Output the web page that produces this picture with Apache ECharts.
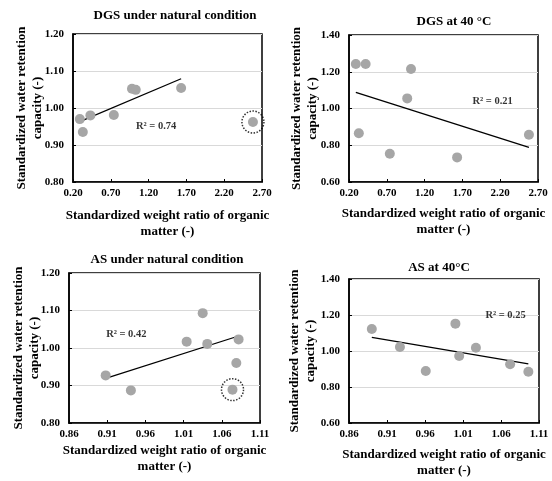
<!DOCTYPE html>
<html><head><meta charset="utf-8">
<script src="https://cdn.jsdelivr.net/npm/echarts@6/dist/echarts.min.js"></script>
<style>html,body{margin:0;padding:0;background:#fff}#c{width:552px;height:481px}</style>
</head><body><div id="c"></div>
<script>
const titles = ['DGS under natural condition', 'DGS at 40 °C', 'AS under natural condition', 'AS at 40°C'];
const r2Labels = ['R² = 0.74', 'R² = 0.21', 'R² = 0.42', 'R² = 0.25'];
const r2PosX = [1.30, 2.10, 0.935, 1.066];
const r2PosY = [0.950, 1.039, 1.037, 1.196];

const xTicksMin = [0.2, 0.2, 0.86, 0.86];
const xTicksMax = [2.7, 2.7, 1.11, 1.11];
const xTickStep = [0.5, 0.5, 0.05, 0.05];
const yTicksMin = [0.8, 0.6, 0.8, 0.6];
const yTicksMax = [1.2, 1.4, 1.2, 1.4];
const yTickStep = [0.1, 0.2, 0.1, 0.2];

const dgsNatX = [0.29, 0.33, 0.43, 0.74, 0.98, 1.03, 1.63, 2.58];
const dgsNatY = [0.970, 0.935, 0.980, 0.981, 1.052, 1.049, 1.054, 0.962];
const dgsNatTrendX = [0.29, 1.63];
const dgsNatTrendY = [0.963, 1.079];
const dgsNatOutlier = [7];

const dgs40X = [0.29, 0.42, 0.33, 0.74, 0.97, 1.02, 1.63, 2.58];
const dgs40Y = [1.242, 1.242, 0.865, 0.754, 1.055, 1.215, 0.734, 0.857];
const dgs40TrendX = [0.29, 2.58];
const dgs40TrendY = [1.088, 0.788];
const dgs40Outlier = [];

const asNatX = [0.908, 0.941, 1.014, 1.035, 1.041, 1.082, 1.079, 1.074];
const asNatY = [0.927, 0.887, 1.017, 1.093, 1.011, 1.023, 0.960, 0.889];
const asNatTrendX = [0.908, 1.082];
const asNatTrendY = [0.919, 1.032];
const asNatOutlier = [7];

const as40X = [0.890, 0.927, 0.961, 1.000, 1.005, 1.027, 1.072, 1.096];
const as40Y = [1.122, 1.022, 0.889, 1.152, 0.972, 1.018, 0.926, 0.885];
const as40TrendX = [0.890, 1.096];
const as40TrendY = [1.076, 0.929];
const as40Outlier = [];

const xName = 'Standardized weight ratio of organic\nmatter (-)';
const yName = 'Standardized water retention\ncapacity (-)';

const panels = [
  [dgsNatX, dgsNatY, dgsNatTrendX, dgsNatTrendY, dgsNatOutlier],
  [dgs40X, dgs40Y, dgs40TrendX, dgs40TrendY, dgs40Outlier],
  [asNatX, asNatY, asNatTrendX, asNatTrendY, asNatOutlier],
  [as40X, as40Y, as40TrendX, as40TrendY, as40Outlier]
];

const FONT = '"Liberation Serif", "Times New Roman", serif';
const gridBoxes = [
  {left: 73, top: 34, width: 189, height: 148},
  {left: 349, top: 35, width: 189, height: 147},
  {left: 69, top: 273, width: 191, height: 150},
  {left: 349, top: 279, width: 190, height: 144}
];
const titlePos = [
  {x: 170, y: 4}, {x: 449, y: 10}, {x: 162, y: 248}, {x: 434, y: 256}
];
const xNameGap = [26, 24, 20, 24];
const yNameGap = [27, 28, 26, 30];

const option = {
  animation: false,
  backgroundColor: '#fff',
  title: titles.map((t, i) => ({
    text: t, left: titlePos[i].x, top: titlePos[i].y, textAlign: 'center',
    textStyle: {fontFamily: FONT, fontWeight: 'bold', fontSize: 13, color: '#000'}
  })),
  grid: gridBoxes.map(g => Object.assign({show: true, borderColor: '#000', borderWidth: 1.5, backgroundColor: 'transparent'}, g)),
  xAxis: panels.map((p, i) => ({
    type: 'value', gridIndex: i, min: xTicksMin[i], max: xTicksMax[i], interval: xTickStep[i],
    name: xName, nameLocation: 'middle', nameGap: xNameGap[i], nameMoveOverlap: false,
    nameTextStyle: {fontFamily: FONT, fontWeight: 'bold', fontSize: 13, color: '#000', lineHeight: 16},
    axisLine: {show: true, lineStyle: {color: '#000', width: 1.5}},
    axisTick: {show: true, inside: true, length: 3, lineStyle: {color: '#000'}},
    axisLabel: {fontFamily: FONT, fontWeight: 'bold', fontSize: 11, color: '#000', margin: 6,
      formatter: v => v.toFixed(2)},
    splitLine: {show: false}
  })),
  yAxis: panels.map((p, i) => ({
    type: 'value', gridIndex: i, min: yTicksMin[i], max: yTicksMax[i], interval: yTickStep[i],
    name: yName, nameLocation: 'middle', nameGap: yNameGap[i], nameMoveOverlap: false,
    nameTextStyle: {fontFamily: FONT, fontWeight: 'bold', fontSize: 13, color: '#000', lineHeight: 16},
    axisLine: {show: true, lineStyle: {color: '#000', width: 1.5}},
    axisTick: {show: true, inside: true, length: 3, lineStyle: {color: '#000'}},
    axisLabel: {fontFamily: FONT, fontWeight: 'bold', fontSize: 11, color: '#000', margin: 9,
      formatter: v => v.toFixed(2)},
    splitLine: {show: true, lineStyle: {color: '#d9d9d9', width: 1}}
  })),
  series: []
};

panels.forEach((p, i) => {
  const [xs, ys, tx, ty, out] = p;
  option.series.push({
    type: 'line', xAxisIndex: i, yAxisIndex: i, symbol: 'none', silent: true,
    lineStyle: {color: '#000', width: 1.3},
    data: tx.map((x, k) => [x, ty[k]]), z: 3
  });
  option.series.push({
    type: 'scatter', xAxisIndex: i, yAxisIndex: i, symbolSize: 10,
    itemStyle: {color: '#a6a6a6', opacity: 1},
    data: xs.map((x, k) => [x, ys[k]]), z: 4
  });
  if (out.length) {
    option.series.push({
      type: 'scatter', xAxisIndex: i, yAxisIndex: i, symbolSize: 22,
      itemStyle: {color: 'rgba(0,0,0,0)', borderColor: '#000', borderWidth: 1.5, borderType: [1.5, 1.5]},
      data: out.map(k => [xs[k], ys[k]]), z: 5
    });
  }
  option.series.push({
    type: 'scatter', xAxisIndex: i, yAxisIndex: i, symbolSize: 0, silent: true,
    label: {show: true, position: 'inside', formatter: r2Labels[i],
      fontFamily: FONT, fontWeight: 'bold', fontSize: 10.5, color: '#000'},
    data: [[r2PosX[i], r2PosY[i]]], z: 6
  });
});

const chart = echarts.init(document.getElementById('c'), null, {renderer: 'canvas'});
chart.setOption(option);
</script>
</body></html>
